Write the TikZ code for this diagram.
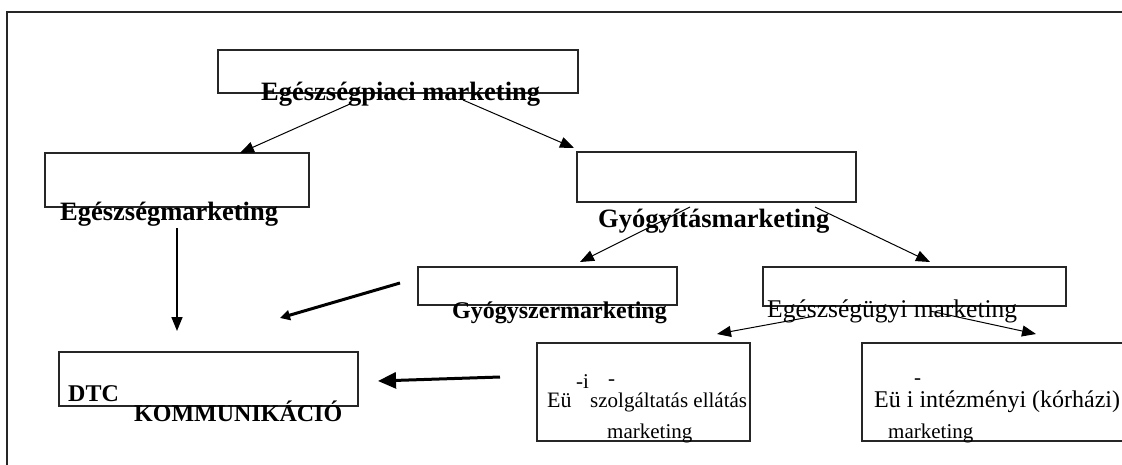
\documentclass[tikz,border=0pt]{standalone}
\usepackage{fontspec}
\setmainfont{Liberation Serif}
\usetikzlibrary{arrows.meta}
\begin{document}
\begin{tikzpicture}[x=1pt,y=-1pt,
  box/.style={draw=black!85,line width=1.1pt,inner sep=0pt},
  bigbold/.style={font=\fontsize{26.5}{30}\selectfont\bfseries,inner sep=0pt,anchor=base west},
  midbold/.style={font=\fontsize{24}{28}\selectfont\bfseries,inner sep=0pt,anchor=base west},
  plain/.style={font=\fontsize{21}{24}\selectfont,inner sep=0pt,anchor=base west},
  thin/.style={line width=1pt,-{Triangle[length=14pt,width=11pt]}},
  thick/.style={line width=3pt,-{Triangle[length=10pt,width=10pt]}},
  med/.style={line width=1.6pt,-{Triangle[length=14pt,width=11pt]}}]
\useasboundingbox (0,0) rectangle (1122,464);

% outer frame, open to the right and bottom
\coordinate (ftl) at (7,12);
\draw[line width=1.5pt,black!85] (7,470) -- (ftl) -- (1130,12);

% boxes
\draw[box] (218,50) rectangle (578,93);
\draw[box] (45,153) rectangle (309,207);
\draw[box] (577,152) rectangle (856,202);
\draw[box] (418,267) rectangle (677,305);
\draw[box] (763,267) rectangle (1066,306);
\draw[box] (59,352) rectangle (358,406);
\draw[box] (537,343) rectangle (750,441);
\draw[box] (1130,343) -- (862,343) -- (862,441) -- (1130,441);

% labels
\node[bigbold] (t1) at (261,100) {Egészségpiaci marketing};
\node[bigbold] (t2) at (60,220) {Egészségmarketing};
\node[bigbold] (t3) at (598,227) {Gyógyításmarketing};
\node[midbold] (t4) at (452,318) {Gyógyszermarketing};
\node[plain,font=\fontsize{25.5}{28}\selectfont] (t5) at (767,317) {Egészségügyi marketing};
\node[midbold] (t6) at (68,401) {DTC};
\node[midbold] (t7) at (134,421) {KOMMUNIKÁCIÓ};
\node[plain] (t8a) at (576,388) {-i};
\node[plain] (t8b) at (608,385) {-};
\node[plain,font=\fontsize{22}{26}\selectfont] (t8c) at (547,407) {Eü};
\node[plain] (t8d) at (590,407) {szolgáltatás ellátás};
\node[plain] (t8e) at (607,438) {marketing};
\node[plain] (t9a) at (914,384) {-};
\node[plain,font=\fontsize{24}{28}\selectfont] (t9b) at (874,407) {Eü i intézményi (kórházi)};
\node[plain] (t9c) at (888,438) {marketing};

% arrow end points
\coordinate (a1s) at (350,104); \coordinate (a1e) at (240,153);
\coordinate (a2s) at (463,100); \coordinate (a2e) at (574,148);
\coordinate (a3s) at (177,228); \coordinate (a3e) at (177,331);
\coordinate (a4s) at (690,207); \coordinate (a4e) at (580,262);
\coordinate (a5s) at (815,207); \coordinate (a5e) at (930,262);
\coordinate (a6s) at (400,283); \coordinate (a6e) at (280,318);
\coordinate (a7s) at (500,377); \coordinate (a7e) at (378,381);
\coordinate (a8s) at (815,316); \coordinate (a8e) at (717,334);
\coordinate (a9s) at (930,311); \coordinate (a9e) at (1036,334);

% connectors
\draw[thin] (a1s) -- (a1e);
\draw[thin] (a2s) -- (a2e);
\draw[med] (a3s) -- (a3e);
\draw[thin] (a4s) -- (a4e);
\draw[thin] (a5s) -- (a5e);
\draw[thick] (a6s) -- (a6e);
\draw[thick,-{Triangle[length=18pt,width=16pt]}] (a7s) -- (a7e);
\draw[thin] (a8s) -- (a8e);
\draw[thin] (a9s) -- (a9e);
\end{tikzpicture}
\end{document}
